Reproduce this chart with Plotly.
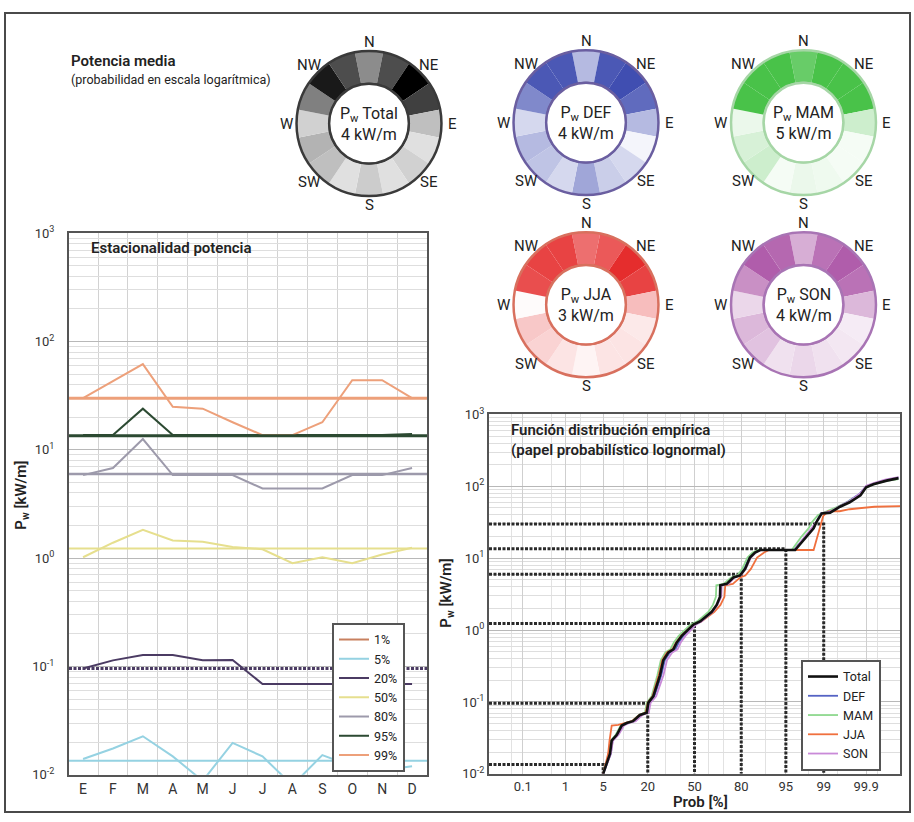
import math
from statistics import NormalDist
import numpy as np
import plotly.graph_objects as go

W, H = 914, 822
FONT = "Roboto"
INK = "#222222"

# ---------------- seasonal percentiles of wave power (kW/m) ----------------
months = ["E", "F", "M", "A", "M", "J", "J", "A", "S", "O", "N", "D"]
pct_names = ["1%", "5%", "20%", "50%", "80%", "95%", "99%"]
pct_colors = ["#c8805f", "#95d2e2", "#4b3b63", "#e6df8e", "#9d9aab", "#2c4a32", "#eda07a"]
p01 = [0.006, 0.007, 0.008, 0.006, 0.005, 0.006, 0.005, 0.005, 0.006, 0.006, 0.006, 0.006]
p05 = [0.014, 0.0175, 0.0227, 0.0148, 0.0088, 0.0197, 0.0148, 0.008, 0.0152, 0.012, 0.011, 0.012]
p20 = [0.096, 0.114, 0.128, 0.128, 0.114, 0.115, 0.069, 0.069, 0.069, 0.069, 0.069, 0.069]
p50 = [1.02, 1.39, 1.83, 1.46, 1.42, 1.27, 1.21, 0.90, 1.02, 0.90, 1.08, 1.25]
p80 = [5.85, 6.8, 12.6, 5.85, 5.85, 5.85, 4.4, 4.4, 4.4, 5.85, 5.85, 6.8]
p95 = [13.7, 13.7, 24.0, 13.7, 13.7, 13.7, 13.7, 13.7, 13.7, 13.7, 13.7, 14.0]
p99 = [30.0, 43.0, 62.0, 25.0, 24.0, 18.0, 13.7, 13.7, 18.0, 44.0, 44.0, 30.0]
monthly = [p01, p05, p20, p50, p80, p95, p99]

# annual percentile levels (kW/m), same order as pct_names
annual_prob = [1, 5, 20, 50, 80, 95, 99]
annual_level = [0.0045, 0.0135, 0.096, 1.23, 6.0, 13.5, 30.0]

# ---------------- empirical distribution (probability %, kW/m) ----------------
cdf_names = ["Total", "DEF", "MAM", "JJA", "SON"]
cdf_colors = ["#111111", "#5563c4", "#8ed88e", "#f0703e", "#c98ad8"]

total_prob = [5.0, 5.5, 6.4, 6.8, 8.1, 9.5, 11.1, 13.4, 16.3, 19.5, 20.3, 22.9, 24.8, 26.7,
              28.7, 31.9, 35.2, 37.4, 40.9, 44.4, 49.2, 54.0, 58.7, 62.2, 65.5, 67.7, 67.9,
              71.9, 75.8, 79.4, 81.9, 84.1, 86.2, 88.1, 96.5, 97.1, 97.8, 98.4, 98.6, 98.9,
              99.27, 99.56, 99.74, 99.86, 99.90, 99.936, 99.973, 99.988]
total_val = [0.010, 0.013, 0.019, 0.029, 0.035, 0.047, 0.051, 0.054, 0.066, 0.071, 0.098, 0.12,
             0.17, 0.235, 0.38, 0.49, 0.54, 0.67, 0.83, 0.97, 1.19, 1.32, 1.55, 1.8, 2.24, 2.9,
             4.2, 4.4, 5.4, 5.75, 7.1, 10.2, 12.0, 13.0, 13.0, 15.6, 20.0, 26.0, 32.0, 42.0,
             43.0, 52.0, 60.0, 75.0, 97.0, 107.0, 120.0, 130.0]

def_prob = [5.0, 5.6, 6.6, 7.0, 8.4, 9.8, 11.5, 13.8, 16.8, 19.8, 20.6, 23.5, 25.5, 27.5, 29.6,
            33.0, 36.5, 38.8, 42.0, 45.5, 50.0, 54.5, 59.0, 62.5, 65.8, 68.0, 68.2, 72.5, 76.0,
            79.0, 81.5, 83.8, 86.0, 88.5, 96.3, 97.0, 97.7, 98.3, 98.6, 98.85, 99.25, 99.55,
            99.72, 99.85, 99.9, 99.94, 99.97, 99.988]
def_val = [0.010, 0.013, 0.019, 0.029, 0.035, 0.047, 0.051, 0.054, 0.066, 0.071, 0.098, 0.12,
           0.17, 0.235, 0.38, 0.49, 0.54, 0.67, 0.83, 0.97, 1.19, 1.32, 1.55, 1.8, 2.24, 2.9,
           4.2, 4.4, 5.4, 5.75, 7.1, 10.2, 12.0, 13.0, 13.0, 15.6, 20.0, 26.0, 32.0, 42.0, 44.0,
           53.0, 62.0, 78.0, 100.0, 110.0, 122.0, 132.0]

mam_prob = [5.0, 5.4, 6.2, 6.6, 7.8, 9.2, 10.8, 13.0, 15.8, 18.6, 19.5, 22.0, 23.6, 25.2, 27.2,
            30.0, 33.2, 35.5, 38.8, 42.2, 47.0, 52.0, 56.5, 60.0, 63.0, 65.0, 65.3, 70.0, 74.5,
            78.0, 80.5, 83.0, 85.2, 87.5, 96.0, 96.6, 97.3, 98.0, 98.3, 98.7, 99.1, 99.5, 99.7,
            99.84, 99.9, 99.93, 99.97, 99.988]
mam_val = [0.010, 0.013, 0.019, 0.029, 0.035, 0.047, 0.051, 0.054, 0.066, 0.071, 0.098, 0.12,
           0.17, 0.235, 0.38, 0.49, 0.54, 0.67, 0.83, 0.97, 1.19, 1.32, 1.55, 1.8, 2.24, 2.9,
           4.2, 4.4, 5.4, 5.75, 7.1, 10.2, 12.0, 13.0, 13.0, 15.6, 20.0, 26.0, 32.0, 40.0, 44.0,
           52.0, 60.0, 74.0, 95.0, 105.0, 118.0, 126.0]

jja_prob = [5.0, 5.4, 6.0, 6.3, 6.8, 8.5, 10.5, 13.0, 16.0, 19.0, 20.0, 22.5, 24.2, 26.0, 28.0,
            31.0, 34.5, 37.0, 40.5, 44.0, 49.0, 55.0, 60.0, 64.0, 68.0, 70.5, 71.0, 75.5, 79.5,
            82.0, 84.5, 87.0, 89.5, 91.0, 98.4, 98.8, 98.98, 99.2, 99.55, 99.74, 99.86, 99.94,
            99.99]
jja_val = [0.010, 0.013, 0.019, 0.029, 0.047, 0.048, 0.051, 0.054, 0.066, 0.071, 0.098, 0.12,
           0.17, 0.235, 0.38, 0.49, 0.54, 0.67, 0.83, 0.97, 1.19, 1.32, 1.55, 1.8, 2.24, 2.9,
           4.2, 4.4, 5.4, 5.75, 7.1, 10.2, 12.0, 13.0, 13.0, 26.0, 39.0, 45.0, 45.0, 48.0, 50.0,
           52.0, 53.0]

son_prob = [5.0, 5.6, 6.6, 7.1, 8.6, 10.2, 12.0, 14.5, 17.5, 20.5, 21.5, 24.5, 26.5, 28.8, 31.0,
            34.5, 38.0, 40.2, 43.5, 47.0, 51.0, 55.0, 59.5, 63.0, 66.0, 68.5, 68.8, 73.0, 76.5,
            79.8, 82.2, 84.5, 86.5, 88.5, 96.4, 97.0, 97.7, 98.3, 98.6, 98.9, 99.3, 99.58, 99.75,
            99.86, 99.9, 99.94, 99.97, 99.988]
son_val = [0.010, 0.013, 0.019, 0.029, 0.035, 0.047, 0.051, 0.054, 0.066, 0.071, 0.098, 0.12,
           0.17, 0.235, 0.38, 0.49, 0.54, 0.67, 0.83, 0.97, 1.19, 1.32, 1.55, 1.8, 2.24, 2.9,
           4.2, 4.4, 5.4, 5.75, 7.1, 10.2, 12.0, 13.0, 13.0, 15.6, 20.0, 26.0, 32.0, 42.0, 45.0,
           54.0, 63.0, 80.0, 102.0, 112.0, 124.0, 134.0]

cdf_prob = [total_prob, def_prob, mam_prob, jja_prob, son_prob]
cdf_val = [total_val, def_val, mam_val, jja_val, son_val]

prob_ticks = [0.1, 1, 5, 20, 50, 80, 95, 99, 99.9]
prob_minor = [0.01, 0.05, 0.5, 2, 10, 30, 40, 60, 70, 90, 98, 99.5, 99.95, 99.99]

# ---------------- directional mean power (relative, 16 sectors) ----------------
directions = ["N", "NNE", "NE", "ENE", "E", "ESE", "SE", "SSE",
              "S", "SSW", "SW", "WSW", "W", "WNW", "NW", "NNW"]
rose_titles = ["Total", "DEF", "MAM", "JJA", "SON"]
rose_power = ["4 kW/m", "4 kW/m", "5 kW/m", "3 kW/m", "4 kW/m"]
rose_total = [0.45, 0.70, 1.00, 0.75, 0.25, 0.12, 0.18, 0.12, 0.20, 0.12, 0.25, 0.30, 0.18, 0.50, 0.90, 0.70]
rose_def = [0.35, 0.85, 0.90, 0.75, 0.35, 0.05, 0.20, 0.25, 0.45, 0.20, 0.30, 0.35, 0.20, 0.60, 0.85, 0.85]
rose_mam = [0.75, 0.90, 0.90, 0.90, 0.25, 0.05, 0.05, 0.08, 0.10, 0.05, 0.25, 0.20, 0.10, 0.90, 0.90, 0.90]
rose_jja = [0.65, 0.75, 0.95, 0.85, 0.30, 0.10, 0.12, 0.12, 0.05, 0.12, 0.20, 0.25, 0.02, 0.80, 0.85, 0.85]
rose_son = [0.40, 0.70, 0.80, 0.70, 0.35, 0.10, 0.12, 0.15, 0.20, 0.15, 0.30, 0.35, 0.20, 0.55, 0.80, 0.75]
rose_values = [rose_total, rose_def, rose_mam, rose_jja, rose_son]
rose_colors = ["#000000", "#2b3aa8", "#35bb35", "#e42222", "#9c3596"]
rose_edges = ["#3a3a3a", "#6a5ea0", "#a6d6a6", "#d8705e", "#a874b4"]
compass8 = ["N", "NE", "E", "SE", "S", "SW", "W", "NW"]

# ---------------- layout geometry (pixels) ----------------
def px(x):
    return x / W

def py(y):
    return 1 - y / H

left_box = (69, 229, 427, 782)
right_box = (489, 414, 900, 781)
rose_centers = [(369, 117), (586, 116), (803.5, 116), (586, 302), (803.5, 302)]
ROSE_R = 74
LABEL_R = 83
Y_MIN_LOG, Y_MAX_LOG = -2, 3

fig = go.Figure()

# ---------------- left chart: monthly percentiles ----------------
month_x = list(range(1, len(months) + 1))
for name, col, vals in zip(pct_names, pct_colors, monthly):
    fig.add_trace(go.Scatter(
        x=month_x, y=vals, mode="lines", name=name,
        line=dict(color=col, width=2), legend="legend",
        xaxis="x", yaxis="y"))

level_style = {
    "1%": dict(width=2, dash="solid"),
    "5%": dict(width=2, dash="solid"),
    "20%": dict(width=3, dash="3px,1.5px"),
    "50%": dict(width=2, dash="solid"),
    "80%": dict(width=2.5, dash="solid"),
    "95%": dict(width=3, dash="solid"),
    "99%": dict(width=3, dash="solid"),
}
shapes = []
for name, col, lvl in zip(pct_names, pct_colors, annual_level):
    if lvl < 10 ** Y_MIN_LOG:
        continue
    st = level_style[name]
    shapes.append(dict(type="line", xref="x domain", yref="y", x0=0, x1=1, y0=lvl, y1=lvl,
                       line=dict(color=col, width=st["width"], dash=st["dash"]), layer="above"))

# ---------------- right chart: empirical CDFs on lognormal paper ----------------
nd = NormalDist()
def zq(p):
    return nd.inv_cdf(p / 100.0)

Z_MIN, Z_MAX = -3.7, 3.7

# guide lines of the annual percentile levels
for p, lvl in zip(annual_prob, annual_level):
    if lvl < 10 ** Y_MIN_LOG:
        continue
    fig.add_trace(go.Scatter(
        x=[Z_MIN, zq(p), zq(p)], y=[lvl, lvl, 10 ** Y_MIN_LOG],
        mode="lines", line=dict(color="#2a2a2a", width=3, dash="3px,1.5px"),
        showlegend=False, hoverinfo="skip", xaxis="x2", yaxis="y2"))

draw_order = [1, 2, 3, 4, 0]
for i in draw_order:
    fig.add_trace(go.Scatter(
        x=[zq(p) for p in cdf_prob[i]], y=cdf_val[i], mode="lines",
        name=cdf_names[i], legendrank=i + 1, legend="legend2",
        line=dict(color=cdf_colors[i], width=2.6 if i == 0 else 1.8),
        xaxis="x2", yaxis="y2"))

# ---------------- directional roses ----------------
theta = [k * 360 / len(directions) for k in range(len(directions))]
ring = np.linspace(0, 360, 121)
for k in range(len(rose_titles)):
    sub = "polar" if k == 0 else f"polar{k + 1}"
    fig.add_trace(go.Barpolar(
        r=[1] * len(directions), theta=theta, width=[360 / len(directions)] * len(directions),
        marker=dict(color=rose_values[k], cmin=0, cmax=1,
                    colorscale=[[0, "#ffffff"], [1, rose_colors[k]]],
                    line=dict(width=0)),
        showlegend=False, hoverinfo="skip", subplot=sub))
    fig.add_trace(go.Scatterpolar(
        r=[0] * len(ring), theta=ring, mode="lines",
        line=dict(color=rose_edges[k], width=2),
        showlegend=False, hoverinfo="skip", subplot=sub))
    cx, cy = rose_centers[k]
    fig.update_layout(**{sub: dict(
        domain=dict(x=[px(cx - ROSE_R), px(cx + ROSE_R)],
                    y=[py(cy + ROSE_R), py(cy - ROSE_R)]),
        hole=0.55, bgcolor="rgba(0,0,0,0)",
        radialaxis=dict(visible=False, range=[0, 1]),
        angularaxis=dict(rotation=90, direction="clockwise", showticklabels=False,
                         ticks="", showgrid=False, showline=True,
                         linecolor=rose_edges[k], linewidth=2.5),
    )})

annotations = []
for k in range(len(rose_titles)):
    cx, cy = rose_centers[k]
    for j, lab in enumerate(compass8):
        a = math.radians(j * 45)
        rr = LABEL_R if j % 2 == 0 else LABEL_R + 2
        annotations.append(dict(
            x=px(cx + rr * math.sin(a)), y=py(cy - rr * math.cos(a)),
            text=lab, font=dict(family=FONT, size=15, color=INK),
            xanchor="center", yanchor="middle"))
    annotations.append(dict(
        x=px(cx), y=py(cy),
        text=f"P<sub>w</sub> {rose_titles[k]}<br>{rose_power[k]}",
        font=dict(family=FONT, size=16, color=INK), align="center",
        xanchor="center", yanchor="middle"))

# ---------------- text ----------------
annotations += [
    dict(x=px(69), y=py(53), text="Potencia media", font=dict(family=FONT, size=15, color=INK, weight=600),
         xanchor="left", yanchor="middle"),
    dict(x=px(69), y=py(72), text="(probabilidad en escala logarítmica)",
         font=dict(family=FONT, size=12.5, color=INK), xanchor="left", yanchor="middle"),
    dict(x=px(89), y=py(244), text="Estacionalidad potencia",
         font=dict(family=FONT, size=15, color=INK, weight=600), xanchor="left", yanchor="middle"),
    dict(x=px(509), y=py(440), text="Función distribución empírica<br>(papel probabilístico lognormal)",
         font=dict(family=FONT, size=15, color=INK, weight=600), xanchor="left", yanchor="middle",
         align="left"),
    dict(x=px(22), y=py(497), text="P<sub>w</sub> [kW/m]", textangle=-90,
         font=dict(family=FONT, size=15, color=INK, weight=600), xanchor="center", yanchor="middle"),
    dict(x=px(447), y=py(597), text="P<sub>w</sub> [kW/m]", textangle=-90,
         font=dict(family=FONT, size=15, color=INK, weight=600), xanchor="center", yanchor="middle"),
    dict(x=px(700), y=py(810), text="Prob [%]",
         font=dict(family=FONT, size=15, color=INK, weight=600), xanchor="center", yanchor="middle"),
]
for a in annotations:
    a.setdefault("xref", "paper")
    a.setdefault("yref", "paper")
    a.setdefault("showarrow", False)

decade_vals = [10.0 ** e for e in range(Y_MIN_LOG, Y_MAX_LOG + 1)]
decade_text = [f"10<sup>{e}</sup>" for e in range(Y_MIN_LOG, Y_MAX_LOG + 1)]

frame = dict(showline=True, mirror=True, linecolor="#555555", linewidth=2, zeroline=False)
tickfont = dict(family=FONT, size=13, color="#333333")

shapes.append(dict(type="rect", xref="paper", yref="paper", x0=px(5), x1=px(910), y0=py(820), y1=py(4),
                   line=dict(color="#4a4a4a", width=2), fillcolor="rgba(0,0,0,0)", layer="below"))

fig.update_layout(
    width=W, height=H, margin=dict(l=0, r=0, t=0, b=0),
    paper_bgcolor="#ffffff", plot_bgcolor="#ffffff",
    font=dict(family=FONT, color=INK),
    annotations=annotations, shapes=shapes,
    xaxis=dict(domain=[px(left_box[0]), px(left_box[2])], range=[0.53, 12.5],
               tickmode="array", tickvals=month_x, ticktext=months, ticks="",
               showgrid=False, tickfont=dict(family=FONT, size=14, color="#333333"),
               minor=dict(tickmode="array", tickvals=list(np.arange(1.5, 12, 1.0)),
                          showgrid=True, gridcolor="#d2d2d2", gridwidth=1, ticks=""),
               anchor="y", **frame),
    yaxis=dict(domain=[py(left_box[3]), py(left_box[1])], type="log", range=[Y_MIN_LOG, Y_MAX_LOG],
               tickmode="array", tickvals=decade_vals, ticktext=decade_text, ticks="",
               showgrid=True, gridcolor="#b8b8b8", gridwidth=1, tickfont=tickfont,
               ticklabelstandoff=10,
               minor=dict(dtick="D1", showgrid=True, gridcolor="#dedede", ticks=""),
               anchor="x", **frame),
    xaxis2=dict(domain=[px(right_box[0]), px(right_box[2])], range=[Z_MIN, Z_MAX],
                tickmode="array", tickvals=[zq(p) for p in prob_ticks],
                ticktext=[f"{p:g}" for p in prob_ticks], ticks="",
                showgrid=True, gridcolor="#cfcfcf", tickfont=tickfont,
                minor=dict(tickmode="array", tickvals=[zq(p) for p in prob_minor],
                           showgrid=True, gridcolor="#e2e2e2", ticks=""),
                anchor="y2", **frame),
    yaxis2=dict(domain=[py(right_box[3]), py(right_box[1])], type="log", range=[Y_MIN_LOG, Y_MAX_LOG],
                tickmode="array", tickvals=decade_vals, ticktext=decade_text, ticks="",
                showgrid=True, gridcolor="#b8b8b8", tickfont=tickfont,
                minor=dict(dtick="D1", showgrid=True, gridcolor="#dedede", ticks=""),
                anchor="x2", **frame),
    legend=dict(x=px(332), y=py(779), xanchor="left", yanchor="bottom",
                bgcolor="#ffffff", bordercolor="#555555", borderwidth=2,
                font=dict(family=FONT, size=12.5, color=INK), tracegroupgap=0),
    legend2=dict(x=px(801), y=py(778), xanchor="left", yanchor="bottom",
                 bgcolor="#ffffff", bordercolor="#555555", borderwidth=2,
                 font=dict(family=FONT, size=12.5, color=INK), tracegroupgap=0),
)

fig.write_html("out.html")
